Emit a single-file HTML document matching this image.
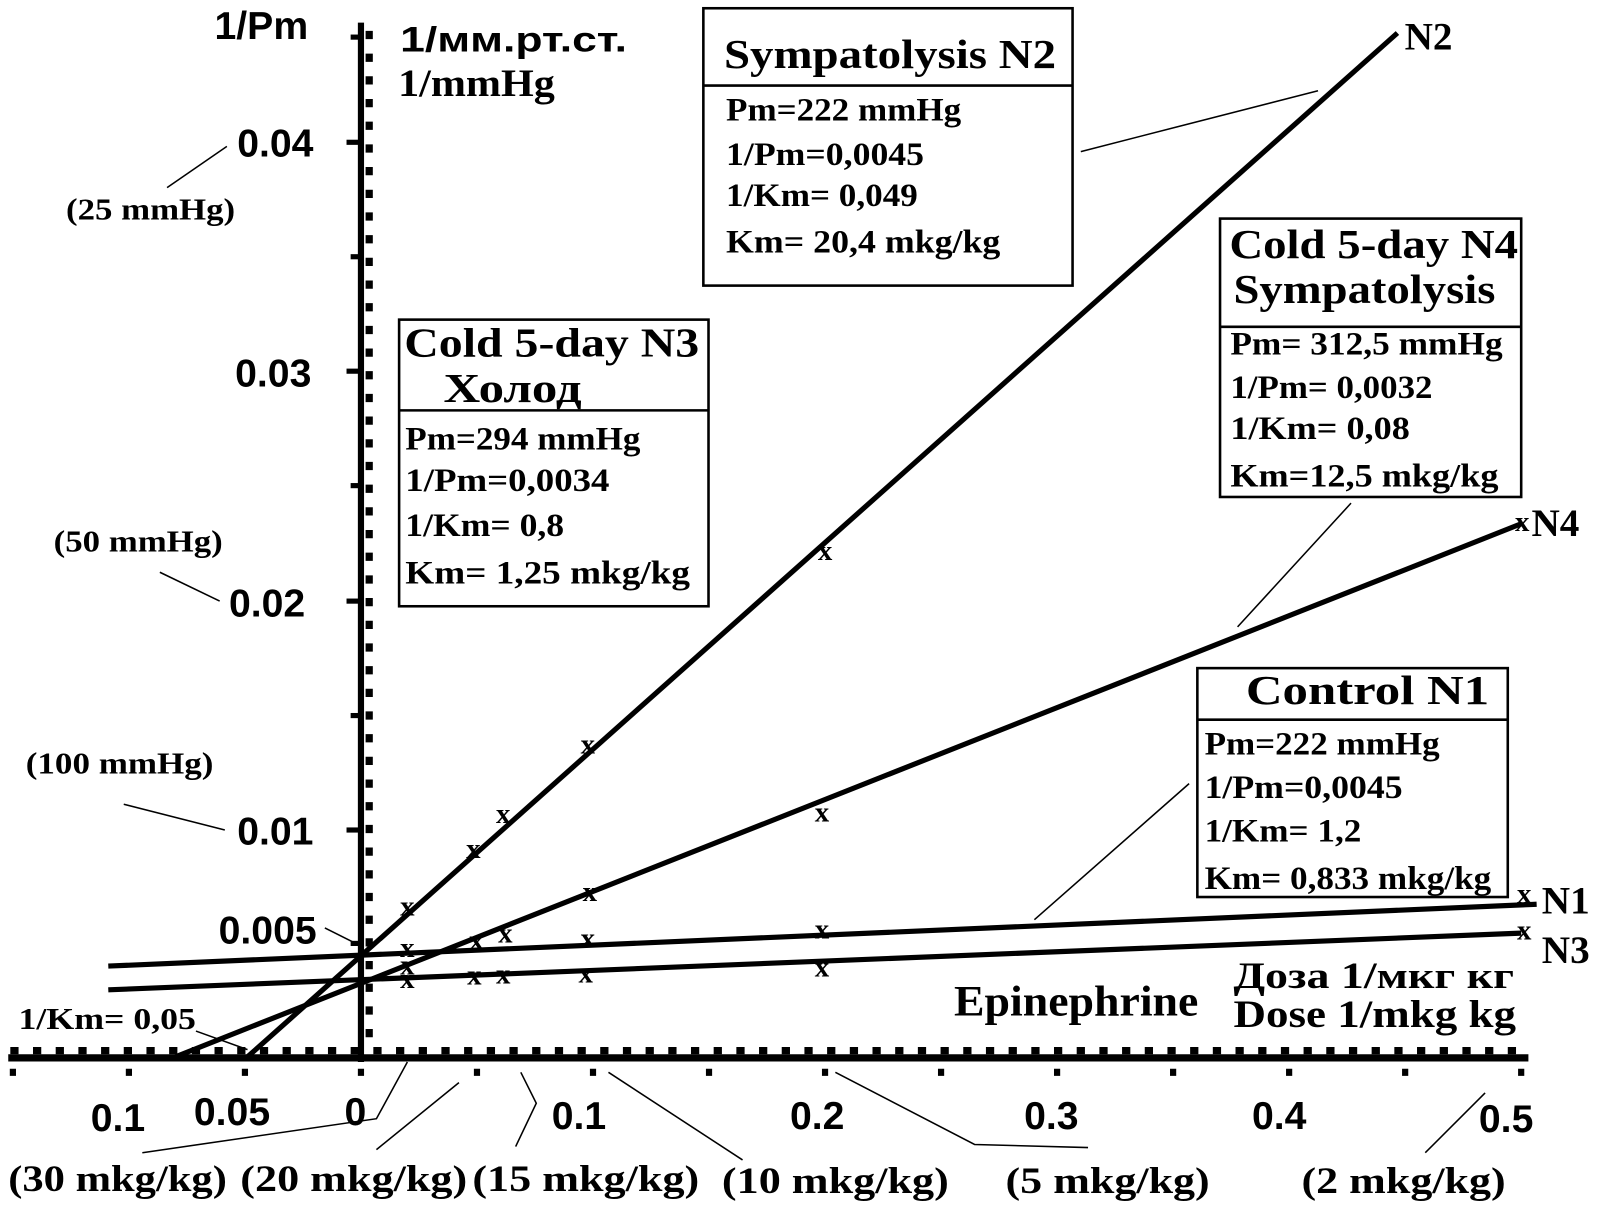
<!DOCTYPE html>
<html><head><meta charset="utf-8"><style>html,body{margin:0;padding:0;background:#fff}svg{display:block}</style></head>
<body>
<svg width="1614" height="1228" viewBox="0 0 1565 1191" preserveAspectRatio="none" xmlns="http://www.w3.org/2000/svg">
<rect width="1565" height="1191" fill="#fff"/>
<line x1="350" y1="22" x2="350" y2="1030" stroke="#000" stroke-width="6"/>
<line x1="358" y1="30" x2="358" y2="1020" stroke="#000" stroke-width="7" stroke-dasharray="8 14"/>
<g stroke="#000" stroke-width="5">
<line x1="340" y1="36" x2="350" y2="36"/><line x1="336" y1="138" x2="350" y2="138"/><line x1="340" y1="249" x2="350" y2="249"/>
<line x1="336" y1="360" x2="350" y2="360"/><line x1="340" y1="471" x2="350" y2="471"/><line x1="336" y1="583" x2="350" y2="583"/>
<line x1="340" y1="694" x2="350" y2="694"/><line x1="336" y1="805" x2="350" y2="805"/><line x1="340" y1="915" x2="350" y2="915"/>
</g>
<line x1="8" y1="1026" x2="1482" y2="1026" stroke="#000" stroke-width="7"/>
<line x1="10" y1="1019" x2="1482" y2="1019" stroke="#000" stroke-width="7" stroke-dasharray="8 14"/>
<line x1="9.5" y1="1040" x2="1482" y2="1040" stroke="#000" stroke-width="7" stroke-dasharray="6 106.5"/>
<g stroke="#000" stroke-width="5" fill="none">
<line x1="240" y1="1025" x2="1355" y2="32"/>
<line x1="170" y1="1025" x2="1475" y2="508"/>
<line x1="105" y1="937" x2="1490" y2="877"/>
<line x1="105" y1="960" x2="1475" y2="905"/>
</g>
<g font-family="Liberation Serif, serif" font-weight="bold" font-size="28" fill="#000" text-anchor="middle">
<text x="800" y="543">x</text><text x="570" y="731">x</text><text x="488" y="798">x</text><text x="459" y="832">x</text><text x="395" y="888">x</text>
<text x="797" y="797">x</text><text x="572" y="874">x</text><text x="490" y="914">x</text><text x="462" y="921">x</text><text x="395" y="945">x</text>
<text x="797" y="910">x</text><text x="570" y="919">x</text><text x="395" y="928">x</text><text x="1478" y="876">x</text><text x="1476" y="515">x</text>
<text x="797" y="947">x</text><text x="568" y="953">x</text><text x="488" y="954">x</text><text x="460" y="955">x</text><text x="395" y="958">x</text><text x="1478" y="911">x</text>
</g>
<g stroke="#000" stroke-width="1.5" fill="none">
<line x1="1048" y1="147" x2="1278" y2="88"/>
<line x1="1200" y1="608" x2="1310" y2="488"/>
<line x1="1003" y1="892" x2="1153" y2="760"/>
<line x1="220" y1="142" x2="162" y2="182"/>
<line x1="155" y1="555" x2="213" y2="583"/>
<line x1="120" y1="780" x2="218" y2="805"/>
<line x1="315" y1="900" x2="345" y2="915"/>
<line x1="190" y1="1000" x2="240" y2="1018"/>
<polyline points="138,1118 365,1085 395,1030"/>
<line x1="365" y1="1115" x2="445" y2="1050"/>
<polyline points="500,1112 520,1070 505,1040"/>
<line x1="590" y1="1040" x2="720" y2="1125"/>
<polyline points="810,1040 945,1110 1055,1113"/>
<line x1="1382" y1="1118" x2="1440" y2="1060"/>
</g>
<g font-family="Liberation Sans, sans-serif" font-weight="bold" font-size="38" fill="#000">
<text x="208" y="38">1/Pm</text>
<text x="230" y="152">0.04</text><text x="228" y="375">0.03</text><text x="222" y="598">0.02</text><text x="230" y="819">0.01</text><text x="212" y="915">0.005</text>
<text x="88" y="1097">0.1</text><text x="188" y="1091">0.05</text><text x="334" y="1091">0</text><text x="535" y="1095">0.1</text>
<text x="766" y="1095">0.2</text><text x="993" y="1095">0.3</text><text x="1214" y="1095">0.4</text><text x="1434" y="1098">0.5</text>
<text x="388" y="50" font-size="34" textLength="220" lengthAdjust="spacingAndGlyphs">1/мм.рт.ст.</text>
</g>
<g font-family="Liberation Serif, serif" font-weight="bold" fill="#000">
<text x="386" y="93" font-size="38" textLength="152" lengthAdjust="spacingAndGlyphs">1/mmHg</text>
<text x="64" y="213" font-size="30" textLength="164" lengthAdjust="spacingAndGlyphs">(25 mmHg)</text>
<text x="52" y="535" font-size="30" textLength="164" lengthAdjust="spacingAndGlyphs">(50 mmHg)</text>
<text x="25" y="750" font-size="30" textLength="182" lengthAdjust="spacingAndGlyphs">(100 mmHg)</text>
<text x="18" y="998" font-size="30" textLength="172" lengthAdjust="spacingAndGlyphs">1/Km= 0,05</text>
<text x="925" y="985" font-size="42" textLength="237" lengthAdjust="spacingAndGlyphs">Epinephrine</text>
<text x="1196" y="958" font-size="36" textLength="272" lengthAdjust="spacingAndGlyphs">Доза  1/мкг кг</text>
<text x="1196" y="996" font-size="38" textLength="274" lengthAdjust="spacingAndGlyphs">Dose 1/mkg kg</text>
<text x="1362" y="48" font-size="38">N2</text>
<text x="1485" y="520" font-size="38">N4</text>
<text x="1495" y="886" font-size="38">N1</text>
<text x="1495" y="934" font-size="38">N3</text>
<g font-size="36">
<text x="8" y="1155" textLength="212" lengthAdjust="spacingAndGlyphs">(30 mkg/kg)</text>
<text x="233" y="1155" textLength="220" lengthAdjust="spacingAndGlyphs">(20 mkg/kg)</text>
<text x="458" y="1155" textLength="220" lengthAdjust="spacingAndGlyphs">(15 mkg/kg)</text>
<text x="700" y="1157" textLength="220" lengthAdjust="spacingAndGlyphs">(10 mkg/kg)</text>
<text x="975" y="1157" textLength="198" lengthAdjust="spacingAndGlyphs">(5 mkg/kg)</text>
<text x="1262" y="1157" textLength="198" lengthAdjust="spacingAndGlyphs">(2 mkg/kg)</text>
</g>
</g>
<g fill="none" stroke="#000" stroke-width="2.5">
<rect x="682" y="8" width="358" height="269"/><line x1="682" y1="83" x2="1040" y2="83"/>
<rect x="1183" y="212" width="292" height="270"/><line x1="1183" y1="317" x2="1475" y2="317"/>
<rect x="387" y="310" width="300" height="278"/><line x1="387" y1="398" x2="687" y2="398"/>
<rect x="1161" y="648" width="301" height="222"/><line x1="1161" y1="698" x2="1462" y2="698"/>
</g>
<g font-family="Liberation Serif, serif" font-weight="bold" fill="#000">
<text x="702" y="66" font-size="40" textLength="322" lengthAdjust="spacingAndGlyphs">Sympatolysis  N2</text>
<g font-size="32">
<text x="704" y="117" textLength="228" lengthAdjust="spacingAndGlyphs">Pm=222 mmHg</text>
<text x="704" y="160" textLength="192" lengthAdjust="spacingAndGlyphs">1/Pm=0,0045</text>
<text x="704" y="200" textLength="186" lengthAdjust="spacingAndGlyphs">1/Km= 0,049</text>
<text x="704" y="245" textLength="266" lengthAdjust="spacingAndGlyphs">Km= 20,4 mkg/kg</text>
</g>
<text x="1192" y="250" font-size="40" textLength="280" lengthAdjust="spacingAndGlyphs">Cold 5-day N4</text>
<text x="1196" y="294" font-size="40" textLength="254" lengthAdjust="spacingAndGlyphs">Sympatolysis</text>
<g font-size="32">
<text x="1193" y="344" textLength="264" lengthAdjust="spacingAndGlyphs">Pm= 312,5 mmHg</text>
<text x="1193" y="386" textLength="196" lengthAdjust="spacingAndGlyphs">1/Pm= 0,0032</text>
<text x="1193" y="426" textLength="174" lengthAdjust="spacingAndGlyphs">1/Km=  0,08</text>
<text x="1193" y="472" textLength="260" lengthAdjust="spacingAndGlyphs">Km=12,5 mkg/kg</text>
</g>
<text x="392" y="346" font-size="40" textLength="286" lengthAdjust="spacingAndGlyphs">Cold 5-day N3</text>
<text x="430" y="390" font-size="40" textLength="134" lengthAdjust="spacingAndGlyphs">Холод</text>
<g font-size="32">
<text x="393" y="436" textLength="228" lengthAdjust="spacingAndGlyphs">Pm=294 mmHg</text>
<text x="393" y="476" textLength="198" lengthAdjust="spacingAndGlyphs">1/Pm=0,0034</text>
<text x="393" y="520" textLength="154" lengthAdjust="spacingAndGlyphs">1/Km= 0,8</text>
<text x="393" y="566" textLength="276" lengthAdjust="spacingAndGlyphs">Km=  1,25  mkg/kg</text>
</g>
<text x="1208" y="683" font-size="40" textLength="236" lengthAdjust="spacingAndGlyphs">Control    N1</text>
<g font-size="32">
<text x="1168" y="732" textLength="228" lengthAdjust="spacingAndGlyphs">Pm=222 mmHg</text>
<text x="1168" y="774" textLength="192" lengthAdjust="spacingAndGlyphs">1/Pm=0,0045</text>
<text x="1168" y="816" textLength="152" lengthAdjust="spacingAndGlyphs">1/Km= 1,2</text>
<text x="1168" y="862" textLength="278" lengthAdjust="spacingAndGlyphs">Km= 0,833 mkg/kg</text>
</g>
</g>
</svg>
</body></html>
